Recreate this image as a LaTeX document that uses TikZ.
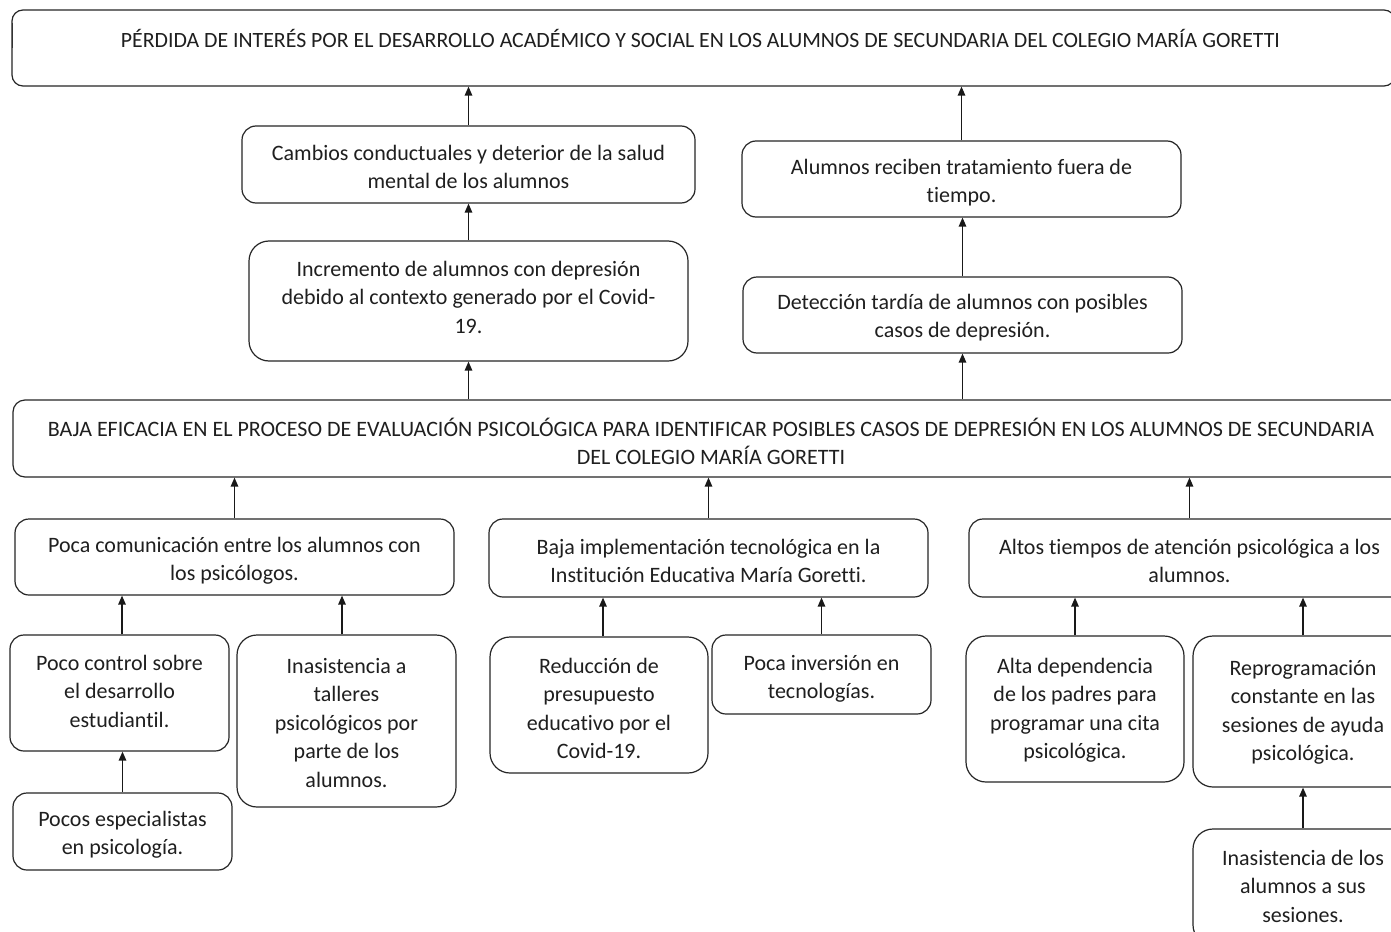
\documentclass[tikz,border=0pt]{standalone}
\usepackage{fontspec}
\setmainfont{Carlito}[Ligatures={NoCommon,NoContextual}]
\usetikzlibrary{arrows.meta}
\newcommand\hst[1]{\rule{0pt}{#1pt}}
\newcommand\dst[1]{\rule[-#1pt]{0pt}{0pt}}
\begin{document}
\begin{tikzpicture}[x=1pt,y=-1pt,
  box/.style={draw=black!85, line width=1.2pt, rounded corners=14pt, align=center,
    inner sep=0pt, font=\fontsize{22}{28.5}\selectfont, text=black!88},
  tall/.style={rounded corners=20pt},
  sz/.style 2 args={minimum width=#1, minimum height=#2},
  arr/.style={draw=black!90, line width=1.3pt, -{Triangle[length=9pt,width=7.5pt]}}]
\useasboundingbox (0,0) rectangle (1391,931);
\fill[white] (0,0) rectangle (1391,931);
\clip (0,0) rectangle (1391,931);

% top level
\node[box, rounded corners=11pt, sz={1383}{76}, text height=15pt, text depth=15pt,
  font=\fontsize{21.8}{28.5}\selectfont] (top) at (703.5,48)
  {PÉRDIDA DE INTERÉS POR EL DESARROLLO ACADÉMICO Y SOCIAL EN LOS ALUMNOS DE SECUNDARIA DEL COLEGIO MARÍA GORETTI\hspace{6pt}};
\draw[line width=0.9pt, black!80] (12.5,23) -- (12.5,48);

% effects
\node[box, sz={453}{77}] (cambios) at (468.5,164.5)
  {\hst{25.5}Cambios conductuales y deterior de la salud\\mental de los alumnos\dst{6}};
\node[box, tall, sz={439}{120}] (incremento) at (468.5,301)
  {\hst{20}Incremento de alumnos con depresión\\debido al contexto generado por el Covid-\\19.\dst{13}};
\node[box, sz={439}{76}] (alumnos) at (961.5,179)
  {\hst{24.5}Alumnos reciben tratamiento fuera de\\tiempo.\dst{6}};
\node[box, sz={439}{76}] (deteccion) at (962.5,315)
  {\hst{22.5}Detección tardía de alumnos con posibles\\casos de depresión.\dst{6}};

% central problem
\node[box, rounded corners=12pt, sz={1396}{77}] (mid) at (711,438.5)
  {\hst{29.5}BAJA EFICACIA EN EL PROCESO DE EVALUACIÓN PSICOLÓGICA PARA IDENTIFICAR POSIBLES CASOS DE DEPRESIÓN EN LOS ALUMNOS DE SECUNDARIA\\DEL COLEGIO MARÍA GORETTI\dst{6}};

% causes
\node[box, sz={439}{76}] (pococom) at (234.5,557)
  {\hst{24.5}Poca comunicación entre los alumnos con\\los psicólogos.\dst{6}};
\node[box, sz={439}{78}] (bajaimp) at (708.5,558)
  {\hst{26.5}Baja implementación tecnológica en la\\Institución Educativa María Goretti.\dst{6}};
\node[box, sz={441}{78}] (altos) at (1189.5,558)
  {\hst{26.5}Altos tiempos de atención psicológica a los\\alumnos.\dst{6}};

% sub causes
\node[box, sz={219}{116}] (pococontrol) at (119.5,693)
  {\hst{20}Poco control sobre\\el desarrollo\\estudiantil.\dst{9}};
\node[box, tall, sz={219}{172}] (inasist) at (346.5,721)
  {\hst{24}Inasistencia a\\talleres\\psicológicos por\\parte de los\\alumnos.\dst{6}};
\node[box, sz={219}{77}] (pocosesp) at (122.5,831.5)
  {\hst{23.5}Pocos especialistas\\en psicología.\dst{6}};
\node[box, tall, sz={218}{136}] (reduccion) at (599,705)
  {\hst{27.5}Reducción de\\presupuesto\\educativo por el\\Covid-19.\dst{6}};
\node[box, sz={219}{79}] (pocainv) at (821.5,674.5)
  {\hst{25.5}Poca inversión en\\tecnologías.\dst{6}};
\node[box, tall, sz={218}{146}] (altadep) at (1075,709)
  {\hst{20}Alta dependencia\\de los padres para\\programar una cita\\psicológica.\dst{6.5}};
\node[box, tall, sz={220}{151}] (reprog) at (1303,711.5)
  {\hst{20}Reprogramación\\constante en las\\sesiones de ayuda\\psicológica.\dst{7.5}};
\node[box, tall, sz={220}{116}] (inasist2) at (1303,887)
  {\hst{20}Inasistencia de los\\alumnos a sus\\sesiones.\dst{7}};

% connectors
\draw[arr] (cambios.north) -- (cambios.north |- top.south);
\draw[arr] (alumnos.north) -- (alumnos.north |- top.south);
\draw[arr] (incremento.north) -- (cambios.south);
\draw[arr] (deteccion.north) -- (deteccion.north |- alumnos.south);
\draw[arr] (incremento.south |- mid.north) -- (incremento.south);
\draw[arr] (deteccion.south |- mid.north) -- (deteccion.south);

\draw[arr] (pococom.north) -- (pococom.north |- mid.south);
\draw[arr] (bajaimp.north) -- (bajaimp.north |- mid.south);
\draw[arr] (altos.north) -- (altos.north |- mid.south);

\draw[arr] ([xshift=2.5pt]pococontrol.north) -- ([xshift=2.5pt]pococontrol.north |- pococom.south);
\draw[arr] ([xshift=-4.5pt]inasist.north) -- ([xshift=-4.5pt]inasist.north |- pococom.south);
\draw[arr] (pocosesp.north) -- (pocosesp.north |- pococontrol.south);
\draw[arr] ([xshift=4pt]reduccion.north) -- ([xshift=4pt]reduccion.north |- bajaimp.south);
\draw[arr] (pocainv.north) -- (pocainv.north |- bajaimp.south);
\draw[arr] (altadep.north) -- (altadep.north |- altos.south);
\draw[arr] (reprog.north) -- (reprog.north |- altos.south);
\draw[arr] (inasist2.north) -- (reprog.south);
\end{tikzpicture}
\end{document}
